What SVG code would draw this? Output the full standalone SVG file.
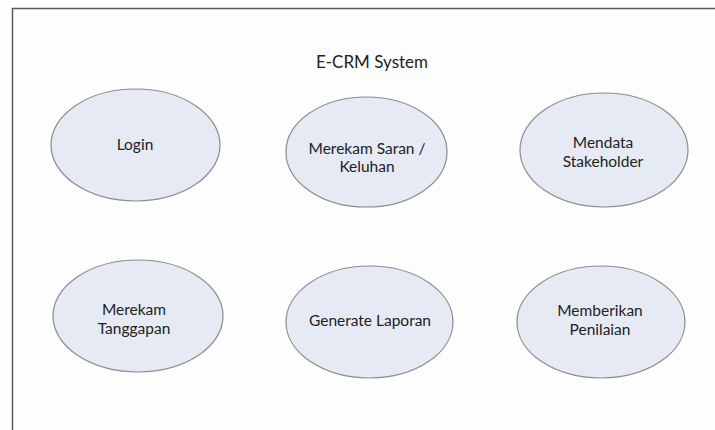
<svg xmlns="http://www.w3.org/2000/svg" width="715" height="430" viewBox="0 0 715 430">
<style>
.uc{fill:#e6eaf5;stroke:#8c8c8c;stroke-width:1.2}
.t{font-family:Lato,"Liberation Sans",sans-serif;font-size:15.5px;fill:#222;text-anchor:middle}
.title{font-family:Lato,"Liberation Sans",sans-serif;font-size:17px;fill:#222;text-anchor:middle}
</style>
<rect width="715" height="430" fill="#fdfdfd"/>
<path d="M12.5,430 V8.5 H715" fill="none" stroke="#5a5a5a" stroke-width="1.5"/>
<text class="title" x="372" y="68">E-CRM System</text>
<g id="login"><ellipse class="uc" cx="135.5" cy="145" rx="84.5" ry="56"/><text class="t" x="135" y="150">Login</text></g>
<g id="merekam-saran"><ellipse class="uc" cx="366.5" cy="152" rx="80.5" ry="55"/><text class="t" x="367" y="154">Merekam Saran /</text><text class="t" x="367" y="172">Keluhan</text></g>
<g id="mendata"><ellipse class="uc" cx="604" cy="150" rx="84" ry="57"/><text class="t" x="603" y="148">Mendata</text><text class="t" x="603" y="167">Stakeholder</text></g>
<g id="merekam-tanggapan"><ellipse class="uc" cx="138" cy="316" rx="85" ry="56"/><text class="t" x="134" y="315">Merekam</text><text class="t" x="134" y="334">Tanggapan</text></g>
<g id="generate"><ellipse class="uc" cx="369.5" cy="322" rx="83.5" ry="56"/><text class="t" x="370" y="326">Generate Laporan</text></g>
<g id="memberikan"><ellipse class="uc" cx="601" cy="322" rx="84" ry="56"/><text class="t" x="600" y="316">Memberikan</text><text class="t" x="600" y="335">Penilaian</text></g>
</svg>
